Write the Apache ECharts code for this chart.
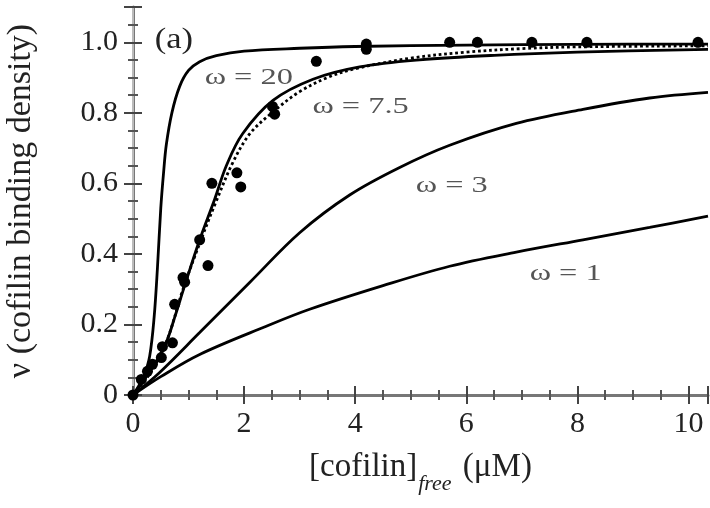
<!DOCTYPE html>
<html>
<head>
<meta charset="utf-8">
<script src="https://cdn.jsdelivr.net/npm/echarts@6/dist/echarts.min.js"></script>
<style>
  html, body { margin: 0; padding: 0; background: #fff; }
  #chart { width: 710px; height: 508px; }
</style>
</head>
<body>
<div id="chart"></div>
<script>
// curves, [x, v]
const omega20 = [[0,0],[0.1,0.025],[0.2,0.055],[0.3,0.11],[0.38,0.22],[0.44,0.36],[0.5,0.53],[0.55,0.63],[0.6,0.71],[0.7,0.8],[0.84,0.875],[1.0,0.92],[1.2,0.945],[1.5,0.962],[2,0.975],[3,0.983],[4,0.988],[6,0.992],[8,0.994],[10.35,0.995]]
const omega75 = [[0,0],[0.12,0.025],[0.36,0.08],[0.6,0.15],[0.75,0.22],[0.93,0.31],[1.2,0.44],[1.47,0.555],[1.68,0.65],[1.97,0.74],[2.52,0.835],[3.24,0.895],[4.08,0.93],[5.16,0.95],[6.5,0.963],[8,0.972],[10.35,0.98]]
const fitDotted = [[0,0],[0.3,0.06],[0.6,0.15],[0.9,0.3],[1.2,0.43],[1.5,0.55],[1.8,0.66],[2.1,0.74],[2.5,0.8],[3,0.86],[3.5,0.9],[4,0.925],[5,0.955],[6,0.972],[7,0.982],[8,0.987],[10.35,0.99]]
const omega3 = [[0,0],[0.48,0.064],[1.2,0.177],[2.1,0.319],[3.0,0.46],[3.9,0.567],[4.8,0.645],[5.7,0.708],[6.9,0.77],[8.1,0.81],[9.3,0.842],[10.35,0.858]]
const omega1 = [[0,0],[0.5,0.052],[1.2,0.115],[2.4,0.195],[3.18,0.243],[4.5,0.31],[5.7,0.365],[6.9,0.405],[8.1,0.44],[9.3,0.475],[10.35,0.507]]

// measured points
const obsX = [0, 0.15, 0.26, 0.35, 0.51, 0.53, 0.71, 0.75, 0.9, 0.93, 1.2, 1.35, 1.42, 1.87, 1.94, 2.51, 2.55, 3.3, 4.2, 4.2, 5.7, 6.2, 7.18, 8.17, 10.17]
const obsY = [0, 0.044, 0.067, 0.087, 0.106, 0.137, 0.148, 0.257, 0.333, 0.32, 0.44, 0.367, 0.6, 0.63, 0.59, 0.818, 0.796, 0.946, 0.995, 0.98, 1.0, 1.0, 1.0, 1.0, 1.0]

// labels inside the plot
const noteText = ['(a)', 'ω = 20', 'ω = 7.5', 'ω = 3', 'ω = 1']
const notePos = [[0.39, 1.005], [1.29, 0.9], [3.23, 0.818], [5.09, 0.594], [7.14, 0.345]]

const serif = 'Liberation Serif'
const chart = echarts.init(document.getElementById('chart'))

const frame = (show) => ({
  show: true,
  lineStyle: { color: '#777', width: show ? 3 : 2 }
})
const ticks = { show: true, inside: true, length: 9, lineStyle: { color: '#444', width: 2 } }
const minor = { show: true, splitNumber: 4, length: 5, lineStyle: { color: '#555', width: 2 } }

const line = (data, dotted) => ({
  type: 'line',
  data: data,
  smooth: 0.35,
  showSymbol: false,
  lineStyle: { color: '#000', width: 2.8, type: dotted ? 'dotted' : 'solid' },
  z: 3
})

chart.setOption({
  animation: false,
  grid: { left: 133, right: 2, top: 7, bottom: 113, outerBoundsMode: 'none' },
  xAxis: [{
    type: 'value', min: 0, max: 10.35, interval: 2,
    axisLine: frame(true), axisTick: ticks, minorTick: minor, splitLine: { show: false },
    axisLabel: {
      fontFamily: serif, fontSize: 30, color: '#222', margin: 14,
      formatter: v => (v % 2 === 0 ? String(v) : '')
    },
    name: '{a|[cofilin]}{s|free}{a| (μM)}',
    nameLocation: 'middle', nameGap: 56,
    nameTextStyle: {
      rich: {
        a: { fontFamily: serif, fontSize: 33, color: '#222', verticalAlign: 'top' },
        s: { fontFamily: serif, fontSize: 22, fontStyle: 'italic', color: '#222', verticalAlign: 'top', padding: [22, 3, 0, 1] }
      }
    }
  }, {
    type: 'value', position: 'top', min: 0, max: 10.35, interval: 2,
    axisLine: frame(false), axisTick: ticks, minorTick: minor, splitLine: { show: false },
    axisLabel: { show: false }
  }],
  yAxis: [{
    type: 'value', min: 0, max: 1.1, interval: 0.2,
    axisLine: frame(true), axisTick: ticks, minorTick: minor, splitLine: { show: false },
    axisLabel: {
      fontFamily: serif, fontSize: 30, color: '#222', margin: 15,
      formatter: v => (v === 0 ? '0' : (v > 1.05 ? '' : v.toFixed(1)))
    },
    name: 'ν (cofilin binding density)',
    nameLocation: 'middle', nameGap: 95,
    nameTextStyle: { fontFamily: serif, fontSize: 34, color: '#222' }
  }, {
    type: 'value', position: 'right', min: 0, max: 1.1, interval: 0.2,
    axisLine: { show: true, lineStyle: { color: '#bbb', width: 2 } },
    axisTick: ticks, minorTick: minor, splitLine: { show: false },
    axisLabel: { show: false }
  }],
  series: [
    line(omega20),
    line(fitDotted, true),
    line(omega75),
    line(omega3),
    line(omega1),
    {
      type: 'scatter',
      data: obsX.map((x, i) => [x, obsY[i]]),
      symbol: 'circle',
      symbolSize: 11,
      itemStyle: { color: '#000', opacity: 1 },
      z: 4
    }
  ]
})

// put the annotations at their data positions
chart.setOption({
  graphic: noteText.map((t, i) => {
    const p = chart.convertToPixel({ xAxisIndex: 0, yAxisIndex: 0 }, notePos[i])
    const isTag = i === 0
    return {
      type: 'text',
      x: p[0], y: p[1],
      scaleX: isTag ? 1.15 : 1.35,
      style: {
        text: t,
        font: (isTag ? '30px ' : '24px ') + serif,
        fill: isTag ? '#222' : '#555',
        textAlign: 'left',
        textVerticalAlign: 'middle'
      },
      z: 10
    }
  })
})
</script>
</body>
</html>
